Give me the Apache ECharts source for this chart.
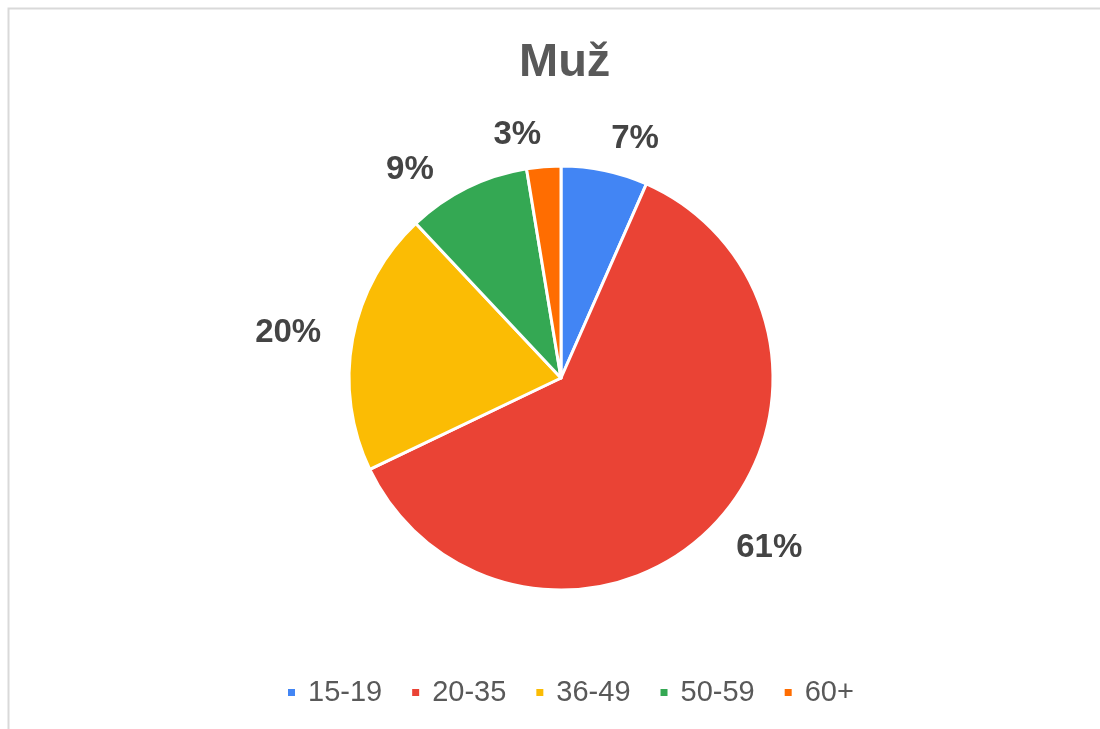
<!DOCTYPE html>
<html>
<head>
<meta charset="utf-8">
<script src="https://cdn.jsdelivr.net/npm/echarts@6/dist/echarts.min.js"></script>
<style>
html, body { margin: 0; padding: 0; background: #fff; }
#chart { width: 1100px; height: 729px; }
</style>
</head>
<body>
<div id="chart"></div>
<script>
var ageGroups = ['15-19', '20-35', '36-49', '50-59', '60+'];
var shares = [6.6, 61.3, 20.1, 9.4, 2.6];
var colors = ['#4285F4', '#EA4335', '#FBBC04', '#34A853', '#FF6D01'];

var myChart = echarts.init(document.getElementById('chart'));

var pieData = ageGroups.map(function (name, i) {
    return { name: name, value: shares[i] };
});

option = {
    color: colors,
    title: {
        text: 'Muž',
        left: 514,
        top: 35,
        textStyle: {
            fontFamily: 'Liberation Sans, Arial, sans-serif',
            fontSize: 47,
            fontWeight: 'bold',
            color: '#595959'
        }
    },
    graphic: [{
        type: 'rect',
        left: 6,
        top: 6,
        shape: { width: 1200, height: 800 },
        style: { fill: 'none', stroke: '#d9d9d9', lineWidth: 2 },
        silent: true
    }],
    legend: {
        left: 281,
        top: 673,
        icon: 'rect',
        itemWidth: 9,
        itemHeight: 9,
        itemGap: 28,
        data: ageGroups,
        textStyle: {
            fontFamily: 'Liberation Sans, Arial, sans-serif',
            fontSize: 29,
            color: '#595959',
            padding: [0, 0, 0, 7]
        }
    },
    series: [
        {
            name: 'Muž',
            type: 'pie',
            center: [561, 378],
            radius: 212,
            startAngle: 90,
            clockwise: true,
            animation: false,
            itemStyle: {
                borderColor: '#fff',
                borderWidth: 3
            },
            label: {
                show: true,
                position: 'outside',
                distanceToLabelLine: 0,
                fontFamily: 'Liberation Sans, Arial, sans-serif',
                fontSize: 33,
                fontWeight: 'bold',
                color: '#444444',
                formatter: function (p) {
                    return Math.round(p.percent) + '%';
                }
            },
            labelLine: {
                show: false,
                length: 32,
                length2: 0
            },
            emphasis: { disabled: true },
            data: pieData
        }
    ]
};

myChart.setOption(option);
</script>
</body>
</html>
